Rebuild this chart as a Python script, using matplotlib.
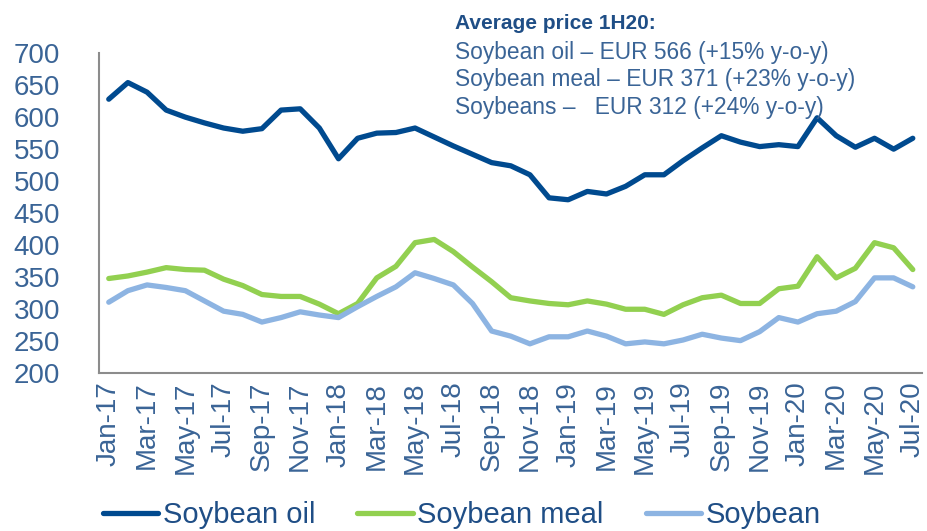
import matplotlib.pyplot as plt
from matplotlib.ticker import FixedLocator

months = ['Jan-17', 'Feb-17', 'Mar-17', 'Apr-17', 'May-17', 'Jun-17', 'Jul-17', 'Aug-17',
          'Sep-17', 'Oct-17', 'Nov-17', 'Dec-17', 'Jan-18', 'Feb-18', 'Mar-18', 'Apr-18',
          'May-18', 'Jun-18', 'Jul-18', 'Aug-18', 'Sep-18', 'Oct-18', 'Nov-18', 'Dec-18',
          'Jan-19', 'Feb-19', 'Mar-19', 'Apr-19', 'May-19', 'Jun-19', 'Jul-19', 'Aug-19',
          'Sep-19', 'Oct-19', 'Nov-19', 'Dec-19', 'Jan-20', 'Feb-20', 'Mar-20', 'Apr-20',
          'May-20', 'Jun-20', 'Jul-20']

soybean_oil = [628, 654, 639, 611, 600, 591, 583, 578, 582, 611, 613, 583, 535, 567, 575,
               576, 583, 569, 555, 542, 529, 524, 510, 474, 471, 484, 480, 492, 510, 510,
               532, 552, 571, 561, 554, 557, 554, 599, 571, 553, 567, 550, 567]
soybean_meal = [348, 352, 358, 365, 362, 361, 347, 337, 323, 320, 320, 308, 293, 309, 349,
                367, 404, 409, 390, 366, 343, 318, 313, 309, 307, 313, 308, 300, 300, 292,
                307, 318, 322, 309, 309, 332, 336, 382, 349, 364, 404, 396, 362]
soybean = [311, 329, 338, 334, 329, 313, 297, 292, 280, 287, 296, 291, 287, 304, 320,
           335, 357, 348, 338, 309, 266, 258, 246, 257, 257, 266, 258, 246, 249, 246,
           252, 261, 255, 251, 265, 287, 280, 293, 297, 312, 349, 349, 335]

notes = ['Soybean oil \u2013 EUR 566 (+15% y-o-y)',
         'Soybean meal \u2013 EUR 371 (+23% y-o-y)',
         'Soybeans \u2013   EUR 312 (+24% y-o-y)']

text_col = '#3A6496'
dark_text = '#1F4E86'

plt.rcParams['font.family'] = ['Liberation Sans', 'DejaVu Sans']

fig = plt.figure(figsize=(9.27, 5.31), dpi=100)
ax = fig.add_axes([0.107, 0.297, 0.888, 0.603])

x = list(range(len(months)))
ax.plot(x, soybean_oil, color='#004A8F', lw=3.8, label='Soybean oil', solid_capstyle='round')
ax.plot(x, soybean_meal, color='#92D050', lw=3.8, label='Soybean meal', solid_capstyle='round')
ax.plot(x, soybean, color='#8DB4E2', lw=3.8, label='Soybean', solid_capstyle='round')

ax.set_ylim(200, 700)
ax.set_yticks(range(200, 701, 50))
ax.set_xlim(-0.5, len(months) - 0.5)
ax.xaxis.set_major_locator(FixedLocator(x[::2]))
ax.set_xticklabels(months[::2], rotation=90)

for side in ['top', 'right']:
    ax.spines[side].set_visible(False)
for side in ['left', 'bottom']:
    ax.spines[side].set_color('#8C8C8C')
    ax.spines[side].set_linewidth(1.5)
ax.tick_params(axis='both', length=0, labelsize=20, labelcolor=text_col)
ax.tick_params(axis='y', pad=28)
ax.tick_params(axis='x', pad=6)

fig.text(0.491, 0.955, 'Average price 1H20:', fontsize=15, fontweight='bold',
         color=dark_text, va='center')
for i, line in enumerate(notes):
    fig.text(0.491, 0.902 - i * 0.052, line, fontsize=16.4, color=text_col, va='center')

leg = fig.legend(loc='center left', bbox_to_anchor=(0.111, 0.03), ncol=3, frameon=False,
                 fontsize=21, handlelength=1.9, handletextpad=0.15, columnspacing=1.45,
                 borderpad=0, borderaxespad=0)
for t in leg.get_texts():
    t.set_color(dark_text)

fig.savefig('out.png', dpi=100)
